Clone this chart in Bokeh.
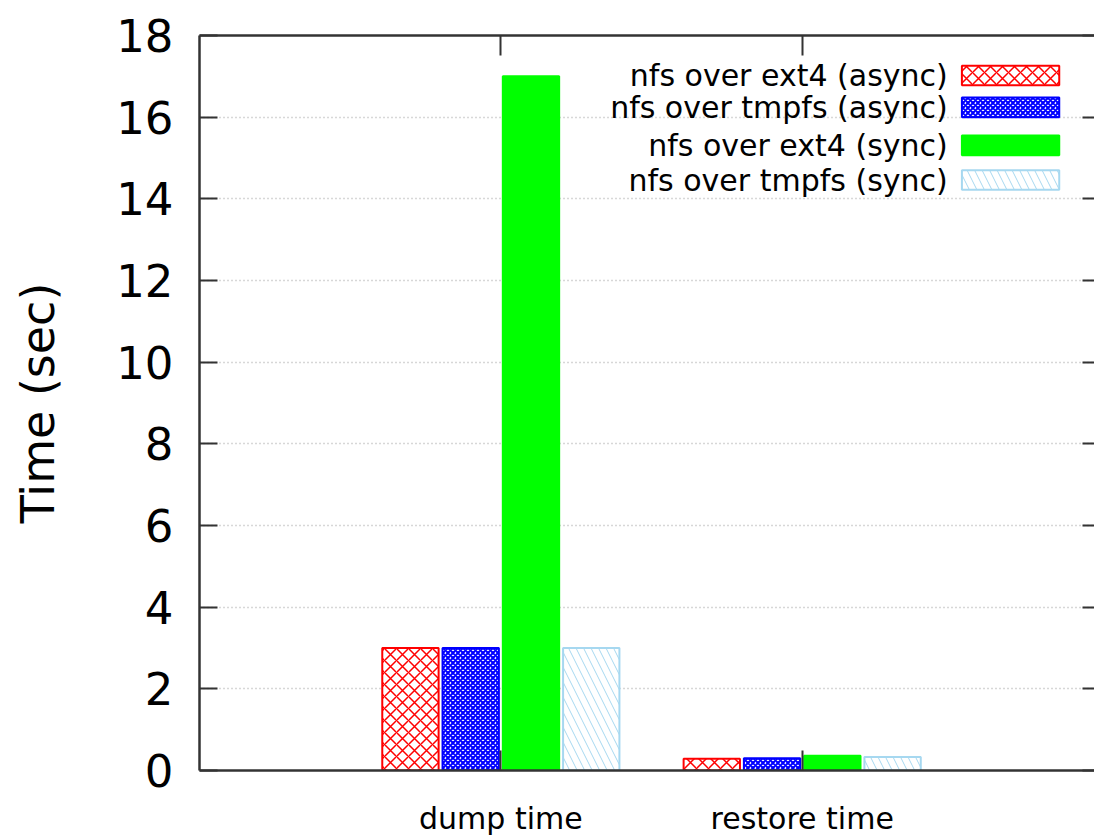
from bokeh.plotting import figure
from bokeh.models import Range1d, FixedTicker, LinearAxis, Label, BoxAnnotation
from bokeh.embed import file_html
from bokeh.resources import INLINE

categories = ["dump time", "restore time"]
series_names = ["nfs over ext4 (async)", "nfs over tmpfs (async)",
                "nfs over ext4 (sync)", "nfs over tmpfs (sync)"]
ext4_async = [3.0, 0.29]
tmpfs_async = [3.0, 0.30]
ext4_sync = [17.0, 0.36]
tmpfs_sync = [3.0, 0.33]
y_ticks = [0, 2, 4, 6, 8, 10, 12, 14, 16, 18]

values = [ext4_async, tmpfs_async, ext4_sync, tmpfs_sync]
styles = [
    dict(fill_color="white", line_color="#ff0000", hatch_pattern="x", hatch_color="#ff0000",
         hatch_scale=12, hatch_weight=1.5),
    dict(fill_color="white", line_color="#0000ff", hatch_pattern="x", hatch_color="#0000ff",
         hatch_scale=5, hatch_weight=2),
    dict(fill_color="#00ff00", line_color="#00ff00"),
    dict(fill_color="white", line_color="#a6d8f0", hatch_pattern="\\", hatch_color="#a6d8f0",
         hatch_scale=15, hatch_weight=1),
]
offsets = [-0.3, -0.1, 0.1, 0.3]
bar_w = 0.187
FONT = "DejaVu Sans"

p = figure(width=1094, height=838, output_backend="svg", toolbar_location=None,
           x_range=Range1d(-1, 1.97), y_range=Range1d(0, 18),
           min_border_left=199, min_border_right=0, min_border_top=35, min_border_bottom=66,
           x_axis_location="below", y_axis_location="left")
p.outline_line_color = None
p.background_fill_color = "white"

idx = list(range(len(categories)))
for vals, st, off in zip(values, styles, offsets):
    p.vbar(x=[i + off for i in idx], top=vals, width=bar_w, bottom=0, line_width=2, **st)

# grid
p.xgrid.grid_line_color = None
p.ygrid.ticker = FixedTicker(ticks=y_ticks)
p.ygrid.grid_line_color = "#b0b0b0"
p.ygrid.grid_line_dash = "1 3"
p.ygrid.grid_line_width = 1.5

axis_col = "#333333"
# bottom
xa = p.xaxis[0]
xa.ticker = FixedTicker(ticks=idx)
xa.major_label_overrides = {i: c for i, c in zip(idx, categories)}
xa.major_label_text_font = FONT
xa.major_label_text_font_size = "30px"
xa.major_label_text_color = "black"
xa.major_label_standoff = 30
xa.major_tick_in = 20
xa.major_tick_out = 0
xa.minor_tick_line_color = None
xa.axis_line_color = axis_col
xa.axis_line_width = 2.5
xa.major_tick_line_color = axis_col
xa.major_tick_line_width = 2

# left
ya = p.yaxis[0]
ya.ticker = FixedTicker(ticks=y_ticks)
ya.major_label_text_font = FONT
ya.major_label_text_font_size = "45px"
ya.major_label_text_color = "black"
ya.major_label_standoff = 26
ya.major_tick_in = 18
ya.major_tick_out = 0
ya.minor_tick_line_color = None
ya.axis_line_color = axis_col
ya.axis_line_width = 2.5
ya.major_tick_line_color = axis_col
ya.major_tick_line_width = 2
ya.axis_label = "Time (sec)"
ya.axis_label_text_font = FONT
ya.axis_label_text_font_size = "46px"
ya.axis_label_text_font_style = "normal"
ya.axis_label_text_color = "black"
ya.axis_label_standoff = 48

# top
ta = LinearAxis(ticker=FixedTicker(ticks=idx), major_label_text_font_size="0px",
                major_tick_in=20, major_tick_out=0, minor_tick_line_color=None,
                axis_line_color=axis_col, axis_line_width=2.5,
                major_tick_line_color=axis_col, major_tick_line_width=2,
                major_label_standoff=0)
ta.major_label_overrides = {i: "" for i in idx}
p.add_layout(ta, "above")

# right (ticks only)
ra = LinearAxis(ticker=FixedTicker(ticks=y_ticks), major_label_text_font_size="0px",
                major_tick_in=12, major_tick_out=0, minor_tick_line_color=None,
                axis_line_color=None, major_tick_line_color=axis_col,
                major_tick_line_width=2, major_label_standoff=0)
ra.major_label_overrides = {t: "" for t in y_ticks}
p.add_layout(ra, "right")

# legend (text on left, swatch on right)
leg_y = [17.02, 16.24, 15.31, 14.46]
for name, st, ly in zip(series_names, styles, leg_y):
    p.add_layout(Label(x=1.483, y=ly, text=name, text_align="right", text_baseline="middle",
                       text_font=FONT, text_font_size="30px", text_color="black"))
    p.add_layout(BoxAnnotation(left=1.53, right=1.853, bottom=ly - 0.24, top=ly + 0.24,
                               fill_alpha=1.0, line_width=2, line_alpha=1.0,
                               hatch_alpha=1.0, **st))

open("out.html", "w").write(file_html(p, INLINE))
